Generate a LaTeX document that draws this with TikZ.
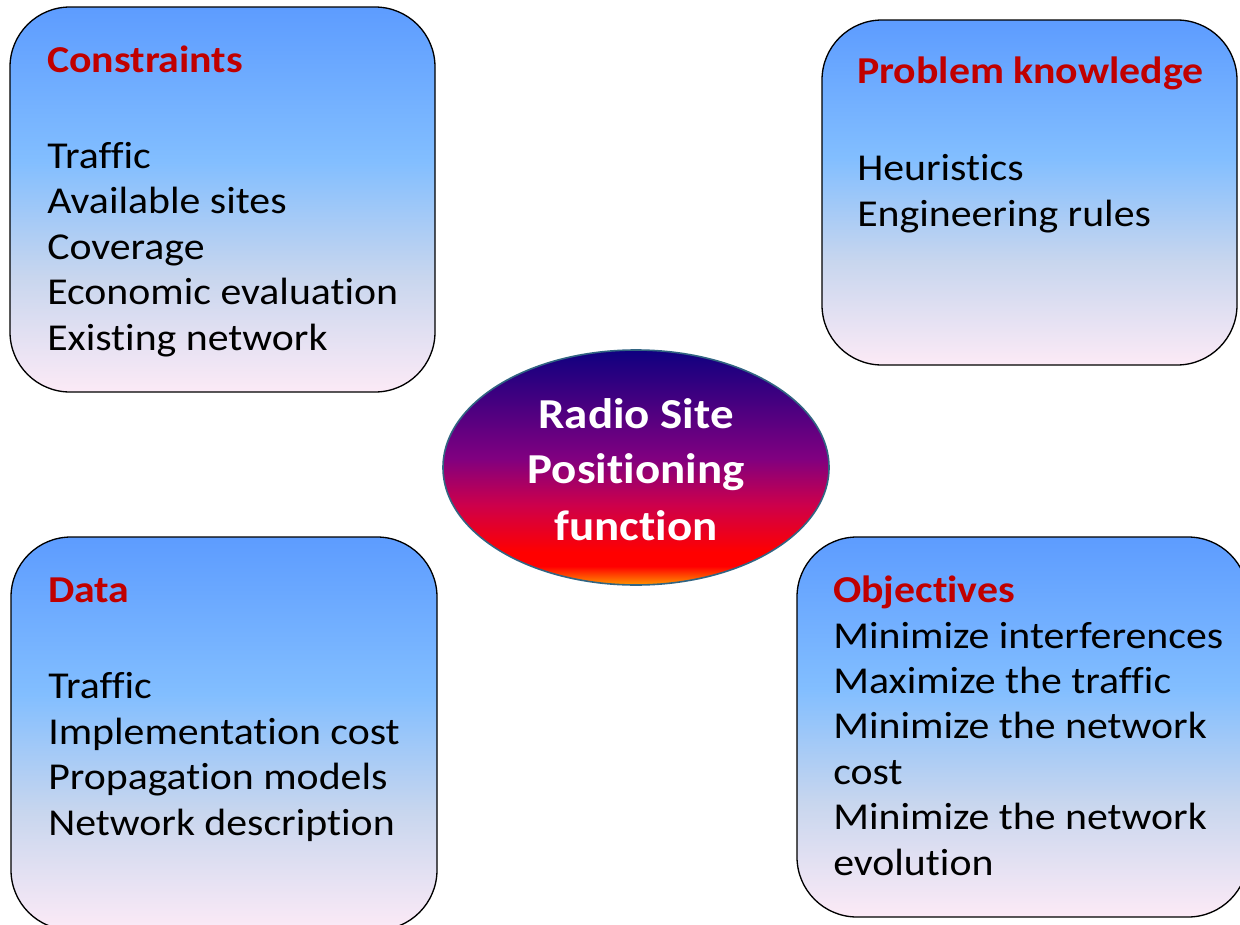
\documentclass[tikz,border=0pt]{standalone}
\usepackage{fontspec}
\setmainfont{Carlito}[FakeStretch=1.1, Ligatures={NoCommon}]
\usetikzlibrary{shapes.geometric}
\definecolor{titlered}{RGB}{192,0,0}
\definecolor{ellborder}{RGB}{49,100,130}
\definecolor{boxbot}{RGB}{252,234,246}
\definecolor{boxlow}{RGB}{200,214,238}
\definecolor{boxmid}{RGB}{130,190,255}
\definecolor{boxtop}{RGB}{93,156,255}
\definecolor{eorange}{RGB}{255,150,0}
\definecolor{ered}{RGB}{255,0,0}
\definecolor{ecrimson}{RGB}{205,0,75}
\definecolor{epurple}{RGB}{128,0,128}
\definecolor{enavy}{RGB}{15,0,128}
\pgfdeclareverticalshading{boxgrad}{100bp}{%
  color(0bp)=(boxbot); color(25bp)=(boxbot); color(40bp)=(boxlow);
  color(55bp)=(boxmid); color(75bp)=(boxtop); color(100bp)=(boxtop)}
\pgfdeclareverticalshading{ellgrad}{100bp}{%
  color(0bp)=(eorange); color(25bp)=(eorange); color(29bp)=(ered);
  color(32bp)=(ered); color(42bp)=(ecrimson); color(52bp)=(epurple);
  color(75bp)=(enavy); color(100bp)=(enavy)}
\tikzset{
  panel/.style={draw=black, line width=1pt, rounded corners=45pt, shading=boxgrad},
  ttl/.style={anchor=base west, inner sep=0pt, text=titlered, font=\fontsize{28.5}{34}\selectfont\bfseries},
  itm/.style={anchor=base west, inner sep=0pt, text=black, font=\fontsize{28.5}{34}\selectfont},
  etxt/.style={anchor=base, inner sep=0pt, text=white, font=\fontsize{32}{38}\selectfont\bfseries},
}
\begin{document}
\begin{tikzpicture}[x=0.75pt,y=0.75pt]
\useasboundingbox (0,0) rectangle (1240,-925);
% panels
\shade[panel] (10,-7) rectangle (435,-392);
\shade[panel] (822,-20) rectangle (1237,-365);
\shade[panel] (11,-537) rectangle (437,-930);
\shade[panel] (797,-537) rectangle (1248,-917);
% ellipse
\node[ellipse, draw=ellborder, line width=1.2pt, shading=ellgrad,
      minimum width=289.5pt, minimum height=176.25pt, inner sep=0pt] (center) at (636,-467.5) {};
\node[etxt] (e1) at (636,-428) {Radio Site};
\node[etxt] (e2) at (636,-483) {Positioning};
\node[etxt] (e3) at (636,-540) {function};
% Constraints
\node[ttl] (c0) at (47,-72) {Constraints};
\node[itm] (c1) at (47,-168) {Traffic};
\node[itm] (c2) at (47,-213.5) {Available sites};
\node[itm] (c3) at (47,-259) {Coverage};
\node[itm] (c4) at (47,-304.5) {Economic evaluation};
\node[itm] (c5) at (47,-350) {Existing network};
% Problem knowledge
\node[ttl] (p0) at (857,-83) {Problem knowledge};
\node[itm] (p1) at (857,-180) {Heuristics};
\node[itm] (p2) at (857,-226) {Engineering rules};
% Data
\node[ttl] (d0) at (48,-602) {Data};
\node[itm] (d1) at (48,-698) {Traffic};
\node[itm] (d2) at (48,-744) {Implementation cost};
\node[itm] (d3) at (48,-789.5) {Propagation models};
\node[itm] (d4) at (48,-835) {Network description};
% Objectives
\node[ttl] (o0) at (833,-602) {Objectives};
\node[itm] (o1) at (833,-648) {Minimize interferences};
\node[itm] (o2) at (833,-693) {Maximize the traffic};
\node[itm] (o3) at (833,-738.5) {Minimize the network};
\node[itm] (o4) at (833,-784) {cost};
\node[itm] (o5) at (833,-829.5) {Minimize the network};
\node[itm] (o6) at (833,-875) {evolution};
\end{tikzpicture}
\end{document}
